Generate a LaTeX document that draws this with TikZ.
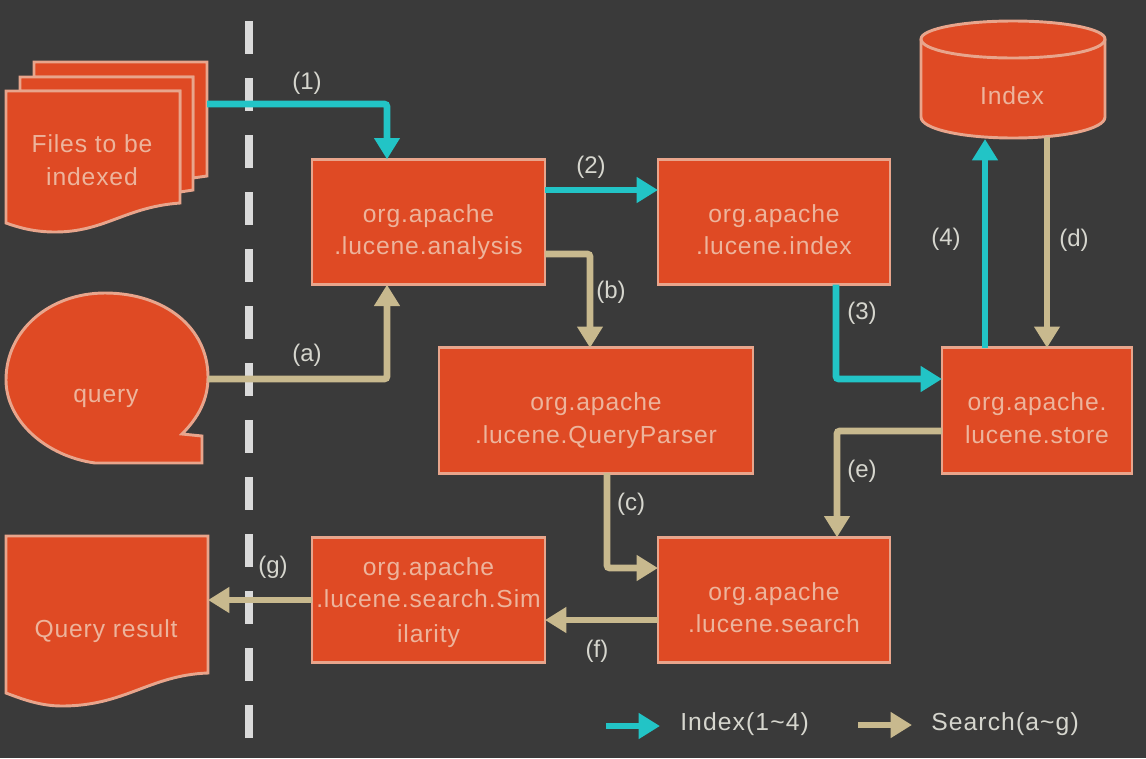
\documentclass[tikz,border=0pt]{standalone}
\usepackage{fontspec}
\setmainfont{Liberation Sans}
\newfontfamily\boxfont[LetterSpace=3.5]{Liberation Sans}
\newfontfamily\keyfont[LetterSpace=4.5]{Liberation Sans}
\usetikzlibrary{arrows.meta}
\definecolor{bg}{HTML}{3A3A3A}
\definecolor{shapefill}{HTML}{DF4A24}
\definecolor{shapeline}{HTML}{E8A58C}
\definecolor{shapetext}{HTML}{EDB49C}
\definecolor{idxcol}{HTML}{22C4C6}
\definecolor{schcol}{HTML}{C8B98E}
\definecolor{lblcol}{HTML}{D6D6CE}
\definecolor{divcol}{HTML}{DADADA}
\newcommand{\dn}{\rule{0pt}{29.5pt}}
\newcommand{\lastln}{\rule[-5pt]{0pt}{5pt}}
\tikzset{
  x=0.75pt,y=-0.75pt,
  boxtext/.style={font=\boxfont\fontsize{18.5pt}{24.5pt}\selectfont,text=shapetext,align=center,inner sep=0pt},
  blockbox/.style={boxtext,draw=shapeline,fill=shapefill,line width=2.2pt,outer sep=0pt,minimum width=#1*0.75pt,minimum height=94pt},
  shapepath/.style={draw=shapeline,fill=shapefill,line width=2.2pt,line join=miter},
  flowarrow/.style={line width=5pt,rounded corners=2pt,-{Triangle[length=16pt,width=18.5pt]}},
  idx/.style={flowarrow,draw=idxcol},
  sch/.style={flowarrow,draw=schcol},
  lbl/.style={font=\fontsize{18pt}{22pt}\selectfont,text=lblcol,inner sep=0pt},
  keylbl/.style={font=\keyfont\fontsize{18.5pt}{22pt}\selectfont,text=lblcol,inner sep=0pt},
  divider/.style={draw=divcol,line width=5.4pt,dash pattern=on 24.75pt off 18pt},
}
\begin{document}
\begin{tikzpicture}
\useasboundingbox (0,0) rectangle (1146,758);
\fill[bg] (0,0) rectangle (1146,758);
\coordinate (divtop) at (249,21);
\coordinate (divbot) at (249,738);
\draw[divider] (divtop) -- (divbot);

% document stack
\draw[shapepath] (34,62) -- (207,62) -- (207,176) -- (193,178) -- (193,77) -- (34,77) -- cycle;
\draw[shapepath] (20,77) -- (193,77) -- (193,190) -- (180,192) -- (180,91) -- (20,91) -- cycle;
\draw[shapepath] (6,91) -- (180,91) -- (180,203) .. controls (125,207) and (105,232) .. (55,232) .. controls (35,232) and (20,228) .. (6,223) -- cycle;
\node[boxtext] (files) at (92,160) {Files to be\\indexed};
\coordinate (filesout) at (207,104);

% query
\draw[shapepath] (95,463) -- (202,463) -- (202,436) -- (182,434) .. controls (198,418) and (208,400) .. (208,377) .. controls (208,328) and (165,293) .. (105,293) .. controls (50,293) and (6,330) .. (6,380) .. controls (6,420) and (45,456) .. (95,463) -- cycle;
\node[boxtext] (query) at (106,398) {query};
\coordinate (queryout) at (208,379);

% result
\draw[shapepath] (6,536) -- (208,536) -- (208,673) .. controls (150,675) and (125,706) .. (62,706) .. controls (40,706) and (22,699) .. (6,693) -- cycle;
\node[boxtext] (result) at (106,631) {Query result};
\coordinate (resultin) at (208,600);

% index cylinder
\draw[shapepath] (921,39) -- (921,117) .. controls (921,129) and (962,138) .. (1013,138) .. controls (1064,138) and (1105,129) .. (1105,117) -- (1105,39) .. controls (1105,29) and (1064,21) .. (1013,21) .. controls (962,21) and (921,29) .. (921,39) -- cycle;
\draw[shapeline,line width=2.2pt] (921,39) .. controls (921,50) and (962,58) .. (1013,58) .. controls (1064,58) and (1105,50) .. (1105,39);
\node[boxtext] (indexdb) at (1012,96) {Index};
\coordinate (dbin) at (985,139);
\coordinate (dbout) at (1047,137);

% blocks
\node[blockbox=233] (analysis) at (428.5,222) {\dn org.apache\\.lucene.analysis\lastln};
\node[blockbox=232] (index) at (774,222) {\dn org.apache\\.lucene.index\lastln};
\node[blockbox=314] (parser) at (596,410.5) {\dn org.apache\\.lucene.QueryParser\lastln};
\node[blockbox=190] (store) at (1037,410.5) {\dn org.apache.\\lucene.store\lastln};
\node[blockbox=232] (search) at (774,600) {\dn org.apache\\.lucene.search\lastln};
\node[blockbox=233] (similarity) at (428.5,600) {\rule{0pt}{18pt}org.apache\\.lucene.search.Sim\\[1.5pt]ilarity\lastln};

% connectors
\draw[idx] (filesout) -| ([shift={(-41.5,0)}]analysis.north);
\draw[sch] (queryout) -| ([shift={(-41.5,0)}]analysis.south);
\draw[idx] ([shift={(0,-32)}]analysis.east) -- ([shift={(0,-32)}]index.west);
\draw[sch] ([shift={(0,32)}]analysis.east) -| ([shift={(-6,0)}]parser.north);
\draw[idx] ([shift={(62,0)}]index.south) |- ([shift={(0,-31.5)}]store.west);
\draw[idx] ([shift={(-52,0)}]store.north) -- (dbin);
\draw[sch] (dbout) -- ([shift={(10,0)}]store.north);
\draw[sch] ([shift={(0,20.5)}]store.west) -| ([shift={(63,0)}]search.north);
\draw[sch] ([shift={(11,0)}]parser.south) |- ([shift={(0,-32)}]search.west);
\draw[sch] ([shift={(0,20)}]search.west) -- ([shift={(0,20)}]similarity.east);
\draw[sch] (similarity.west) -- (resultin);

% connector labels
\node[lbl] (l1) at (307,83) {(1)};
\node[lbl] (l2) at (591,167) {(2)};
\node[lbl] (l3) at (862,313) {(3)};
\node[lbl] (l4) at (946,239) {(4)};
\node[lbl] (la) at (307,355) {(a)};
\node[lbl] (lb) at (611,292) {(b)};
\node[lbl] (lc) at (631,504) {(c)};
\node[lbl] (ld) at (1074,240) {(d)};
\node[lbl] (le) at (862,471) {(e)};
\node[lbl] (lf) at (597,651) {(f)};
\node[lbl] (lg) at (273,567) {(g)};

% legend
\coordinate (k1a) at (606,726);
\coordinate (k1b) at (660,726);
\coordinate (k2a) at (858,725);
\coordinate (k2b) at (912,725);
\draw[idx] (k1a) -- (k1b);
\draw[sch] (k2a) -- (k2b);
\node[keylbl,anchor=west] (k1t) at (680,724) {Index(1\textasciitilde 4)};
\node[keylbl,anchor=west] (k2t) at (931,724) {Search(a\textasciitilde g)};
\end{tikzpicture}
\end{document}
